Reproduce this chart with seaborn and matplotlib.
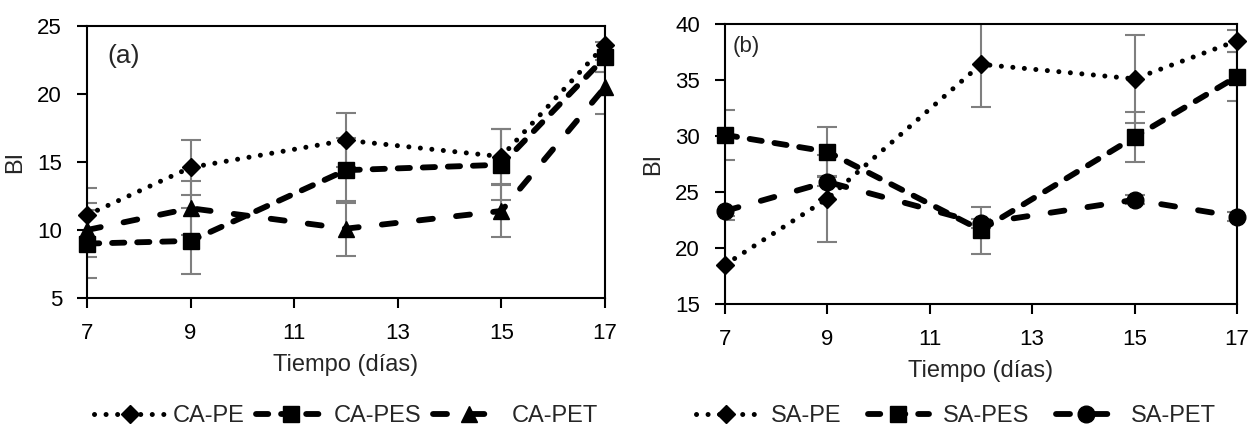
import pandas as pd
import seaborn as sns
import matplotlib.pyplot as plt

# Values
dias = [7, 9, 12, 15, 17]

ca_pe = [11.1, 14.6, 16.6, 15.4, 23.6]
ca_pe_err = [2.0, 2.0, 2.0, 2.0, 2.0]
ca_pes = [9.0, 9.2, 14.4, 14.8, 22.7]
ca_pes_err = [2.5, 2.4, 2.4, 2.6, 1.1]
ca_pet = [10.0, 11.6, 10.1, 11.4, 20.5]
ca_pet_err = [2.0, 2.0, 2.0, 1.9, 2.0]

sa_pe = [18.5, 24.4, 36.4, 35.1, 38.5]
sa_pe_err = [4.0, 3.9, 3.8, 3.9, 1.0]
sa_pes = [30.1, 28.6, 21.6, 29.9, 35.3]
sa_pes_err = [2.2, 2.2, 2.1, 2.2, 2.2]
sa_pet = [23.3, 25.9, 22.2, 24.3, 22.8]
sa_pet_err = [0.4, 0.4, 0.4, 0.4, 0.4]

etiquetas_a = ["CA-PE", "CA-PES", "CA-PET"]
etiquetas_b = ["SA-PE", "SA-PES", "SA-PET"]

# Style setup
sns.set_style("white")
plt.rcParams['font.family'] = ['Liberation Sans', 'DejaVu Sans']
plt.rcParams.update({'font.size': 16, 'axes.linewidth': 1.5})

# line styles: PE dotted, PES short dashes, PET long dashes
estilos = [
    dict(lw=3.6, ls=(0, (0.01, 2.3)), dash_capstyle='round'),
    dict(lw=4.2, ls=(0, (2.1, 2.2)), dash_capstyle='round'),
    dict(lw=4.2, ls=(0, (2.4, 4.0)), dash_capstyle='round'),
]
marcadores_a = [('D', 9), ('s', 11), ('^', 11)]
marcadores_b = [('D', 9), ('s', 11), ('o', 12)]


def dibujar(ax, series, errores, etiquetas, marcadores):
    for vals, err, lab, (mk, ms), est in zip(series, errores, etiquetas, marcadores, estilos):
        ax.errorbar(dias, vals, yerr=err, fmt='none', ecolor='#7f7f7f',
                    elinewidth=1.5, capsize=7, capthick=1.5, zorder=1)
        df = pd.DataFrame({'dia': dias, 'BI': vals})
        sns.lineplot(data=df, x='dia', y='BI', ax=ax, color='black', marker=mk,
                     markersize=ms, markeredgecolor='black', markerfacecolor='black',
                     markeredgewidth=1, label=lab, errorbar=None, sort=False,
                     clip_on=False, zorder=3, **est)
    ax.set_xlim(7, 17)
    ax.set_xticks(range(7, 18, 2))
    for s in ax.spines.values():
        s.set_visible(True)
        s.set_color('black')
        s.set_linewidth(1.5)
    ax.tick_params(axis='both', direction='out', length=7, width=1.5, pad=11,
                   labelsize=16, colors='black', bottom=True, left=True)
    ax.set_xlabel("Tiempo (días)", fontsize=17, labelpad=7)
    ax.set_ylabel("BI", fontsize=17, labelpad=8)


fig = plt.figure(figsize=(12.52, 4.28), dpi=100)

# Panel (a)
ax1 = fig.add_axes([0.0695, 0.3037, 0.4137, 0.6355])
dibujar(ax1, [ca_pe, ca_pes, ca_pet], [ca_pe_err, ca_pes_err, ca_pet_err],
        etiquetas_a, marcadores_a)
ax1.set_ylim(5, 25)
ax1.set_yticks(range(5, 26, 5))
ax1.text(0.039, 0.89, "(a)", transform=ax1.transAxes, fontsize=19, va='center', ha='left')
ax1.legend(loc='center', bbox_to_anchor=(0.5, -0.434), ncol=3, frameon=False,
           fontsize=17, handlelength=3.0, handletextpad=0.3, columnspacing=0.5,
           borderaxespad=0)

# Panel (b)
ax2 = fig.add_axes([0.579, 0.2897, 0.409, 0.6543])
dibujar(ax2, [sa_pe, sa_pes, sa_pet], [sa_pe_err, sa_pes_err, sa_pet_err],
        etiquetas_b, marcadores_b)
ax2.set_ylim(15, 40)
ax2.set_yticks(range(15, 41, 5))
ax2.text(0.016, 0.918, "(b)", transform=ax2.transAxes, fontsize=16, va='center', ha='left')
ax2.legend(loc='center', bbox_to_anchor=(0.451, -0.40), ncol=3, frameon=False,
           fontsize=17, handlelength=2.6, handletextpad=0.6, columnspacing=1.1,
           borderaxespad=0)

fig.savefig("out.png", dpi=100)
